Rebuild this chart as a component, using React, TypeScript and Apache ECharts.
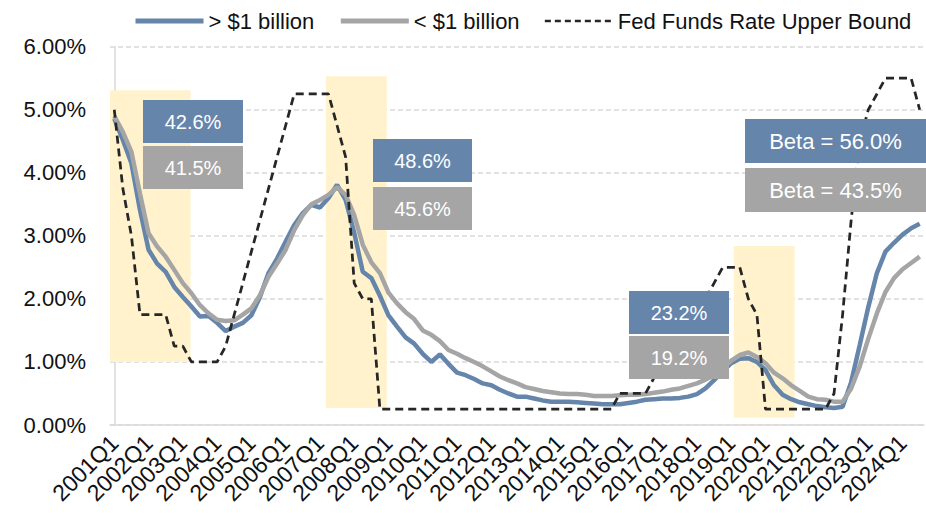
import React, { useEffect, useRef } from "react";
import * as echarts from "echarts";

const years = [2001, 2002, 2003, 2004, 2005, 2006, 2007, 2008, 2009, 2010, 2011, 2012, 2013, 2014, 2015, 2016, 2017, 2018, 2019, 2020, 2021, 2022, 2023, 2024];
const quarterNames = ["Q1", "Q2", "Q3", "Q4"];
const lastQuarterCount = 95; // 2001Q1 .. 2024Q3
const quarters: string[] = [];
for (const y of years) for (const q of quarterNames) quarters.push(`${y}${q}`);
quarters.length = lastQuarterCount;

// Cost of deposits, banks > $1 billion (%)
const largeBanks = [
  4.86, 4.52, 4.15, 3.41, 2.78, 2.56, 2.43, 2.19, 2.03, 1.88, 1.72, 1.73,
  1.62, 1.49, 1.56, 1.62, 1.74, 2.03, 2.41, 2.64, 2.91, 3.17, 3.36, 3.49,
  3.45, 3.60, 3.81, 3.57, 3.05, 2.43, 2.33, 2.05, 1.74, 1.56, 1.39, 1.29,
  1.13, 1.00, 1.12, 0.97, 0.83, 0.79, 0.73, 0.66, 0.63, 0.56, 0.50, 0.45,
  0.45, 0.42, 0.39, 0.37, 0.37, 0.37, 0.36, 0.35, 0.34, 0.33, 0.33, 0.33,
  0.35, 0.37, 0.40, 0.41, 0.42, 0.42, 0.43, 0.45, 0.49, 0.58, 0.71, 0.85,
  0.98, 1.05, 1.06, 1.00, 0.87, 0.63, 0.48, 0.41, 0.36, 0.33, 0.30, 0.28,
  0.27, 0.29, 0.68, 1.27, 1.87, 2.41, 2.75, 2.89, 3.02, 3.12, 3.19,
];

// Cost of deposits, banks < $1 billion (%)
const smallBanks = [
  4.90, 4.65, 4.33, 3.67, 3.04, 2.83, 2.67, 2.46, 2.25, 2.09, 1.90, 1.77,
  1.67, 1.65, 1.66, 1.75, 1.85, 2.06, 2.35, 2.56, 2.78, 3.09, 3.33, 3.50,
  3.57, 3.65, 3.77, 3.65, 3.33, 2.86, 2.58, 2.41, 2.10, 1.93, 1.79, 1.68,
  1.50, 1.43, 1.33, 1.19, 1.13, 1.06, 1.00, 0.93, 0.85, 0.77, 0.71, 0.66,
  0.60, 0.57, 0.54, 0.52, 0.50, 0.49, 0.49, 0.48, 0.46, 0.46, 0.46, 0.47,
  0.48, 0.48, 0.49, 0.51, 0.53, 0.56, 0.58, 0.62, 0.66, 0.72, 0.79, 0.90,
  1.02, 1.11, 1.15, 1.08, 0.98, 0.83, 0.74, 0.63, 0.54, 0.45, 0.41, 0.40,
  0.37, 0.37, 0.58, 0.93, 1.37, 1.77, 2.11, 2.33, 2.47, 2.57, 2.67,
];

// Fed Funds target rate, upper bound, quarter end (%)
const fedFundsUpper = [
  5.00, 3.75, 3.00, 1.75, 1.75, 1.75, 1.75, 1.25, 1.25, 1.00, 1.00, 1.00,
  1.00, 1.25, 1.75, 2.25, 2.75, 3.25, 3.75, 4.25, 4.75, 5.25, 5.25, 5.25,
  5.25, 5.25, 4.75, 4.25, 2.25, 2.00, 2.00, 0.25, 0.25, 0.25, 0.25, 0.25,
  0.25, 0.25, 0.25, 0.25, 0.25, 0.25, 0.25, 0.25, 0.25, 0.25, 0.25, 0.25,
  0.25, 0.25, 0.25, 0.25, 0.25, 0.25, 0.25, 0.25, 0.25, 0.25, 0.25, 0.50,
  0.50, 0.50, 0.50, 0.75, 1.00, 1.25, 1.25, 1.50, 1.75, 2.00, 2.25, 2.50,
  2.50, 2.50, 2.00, 1.75, 0.25, 0.25, 0.25, 0.25, 0.25, 0.25, 0.25, 0.25,
  0.50, 1.75, 3.25, 4.50, 5.00, 5.25, 5.50, 5.50, 5.50, 5.50, 5.00,
];

// Shaded easing periods (quarter index bounds, % bounds)
const shadeStart = [-0.5, 24.7, 72.3];
const shadeEnd = [8.9, 31.8, 79.4];
const shadeLow = [1.0, 0.27, 0.12];
const shadeHigh = [5.31, 5.53, 2.84];

// Deposit beta annotations
const betaLarge = ["42.6%", "48.6%", "23.2%", "Beta = 56.0%"];
const betaSmall = ["41.5%", "45.6%", "19.2%", "Beta = 43.5%"];

const FONT = '"Liberation Sans", Arial, sans-serif';
const BLUE = "#6585AB";
const GRAY = "#A5A5A5";
const DARK = "#262626";

// annotation box layout: [x, yLarge, ySmall, width, height, fontSize]
const boxLayout = [
  [143, 100, 146, 100, 43, 20],
  [373, 139, 187, 99, 43, 20],
  [629, 291, 336, 100, 43, 20],
  [745, 119, 168, 181, 44, 22],
];

export default function App() {
  const ref = useRef<HTMLDivElement>(null);
  useEffect(() => {
    if (!ref.current) return;
    const chart = echarts.init(ref.current, undefined, { renderer: "svg" });

    const graphic: any[] = [];
    boxLayout.forEach((b, i) => {
      const [x, y1, y2, w, h, fs] = b;
      [
        [y1, BLUE, betaLarge[i]],
        [y2, GRAY, betaSmall[i]],
      ].forEach(([y, fill, text]: any) => {
        graphic.push({
          type: "rect",
          shape: { x, y, width: w, height: h },
          style: { fill },
          z: 100,
          silent: true,
        });
        graphic.push({
          type: "text",
          x: x + w / 2,
          y: y + h / 2,
          style: {
            text,
            fill: "#FFFFFF",
            fontSize: fs,
            fontFamily: FONT,
            align: "center",
            verticalAlign: "middle",
          },
          z: 101,
          silent: true,
        });
      });
    });

    chart.setOption({
      animation: false,
      backgroundColor: "#FFFFFF",
      textStyle: { fontFamily: FONT },
      legend: {
        data: [
          { name: "> $1 billion", lineStyle: { width: 5, color: BLUE } },
          { name: "< $1 billion", lineStyle: { width: 5, color: GRAY } },
          { name: "Fed Funds Rate Upper Bound", lineStyle: { width: 2.5, color: DARK, type: [6, 4] } },
        ],
        top: 5,
        left: 128,
        itemWidth: 68,
        itemHeight: 14,
        itemGap: 24,
        itemStyle: { opacity: 0 },
        textStyle: { fontSize: 22, color: "#111", fontFamily: FONT },
      },
      grid: { left: 110, right: 2, top: 46.7, bottom: 88 },
      xAxis: [
        {
          type: "category",
          data: quarters,
          boundaryGap: true,
          axisLine: { lineStyle: { color: "#D9D9D9", width: 1.5 } },
          axisTick: { show: false },
          axisLabel: {
            interval: 3,
            rotate: 45,
            fontSize: 23,
            color: "#111",
            margin: 14,
            fontFamily: FONT,
          },
          splitLine: { show: false },
        },
        { type: "value", min: -0.5, max: 94.5, show: false },
      ],
      yAxis: {
        type: "value",
        min: 0,
        max: 6,
        interval: 1,
        axisLabel: {
          formatter: (v: number) => v.toFixed(2) + "%",
          fontSize: 22,
          color: "#111",
          margin: 24,
          fontFamily: FONT,
        },
        axisLine: { show: true, lineStyle: { color: "#D9D9D9", width: 1.5 } },
        axisTick: { show: false },
        splitLine: { lineStyle: { type: [5, 3], color: "#D9D9D9", width: 1.5 } },
      },
      series: [
        {
          name: "shade",
          type: "custom",
          xAxisIndex: 1,
          yAxisIndex: 0,
          silent: true,
          z: 1,
          encode: { x: [0, 1], y: [2, 3] },
          data: shadeStart.map((s, i) => [s, shadeEnd[i], shadeLow[i], shadeHigh[i]]),
          renderItem: (_params: any, api: any) => {
            const p0 = api.coord([api.value(0), api.value(3)]);
            const p1 = api.coord([api.value(1), api.value(2)]);
            return {
              type: "rect",
              shape: { x: p0[0], y: p0[1], width: p1[0] - p0[0], height: p1[1] - p0[1] },
              style: { fill: "#FFF2CC" },
            };
          },
        },
        {
          name: "> $1 billion",
          type: "line",
          data: largeBanks,
          symbol: "none",
          lineStyle: { color: BLUE, width: 4.5 },
          itemStyle: { color: BLUE },
          z: 2,
        },
        {
          name: "< $1 billion",
          type: "line",
          data: smallBanks,
          symbol: "none",
          lineStyle: { color: GRAY, width: 4.5 },
          itemStyle: { color: GRAY },
          z: 3,
        },
        {
          name: "Fed Funds Rate Upper Bound",
          type: "line",
          data: fedFundsUpper,
          symbol: "none",
          lineStyle: { color: DARK, width: 2.75, type: [8, 5] },
          itemStyle: { color: DARK },
          z: 4,
        },
      ],
      graphic,
    });
    return () => chart.dispose();
  }, []);

  return (
    <div
      ref={ref}
      style={{ position: "fixed", left: 0, top: 0, width: 926, height: 513, background: "#fff" }}
    />
  );
}
